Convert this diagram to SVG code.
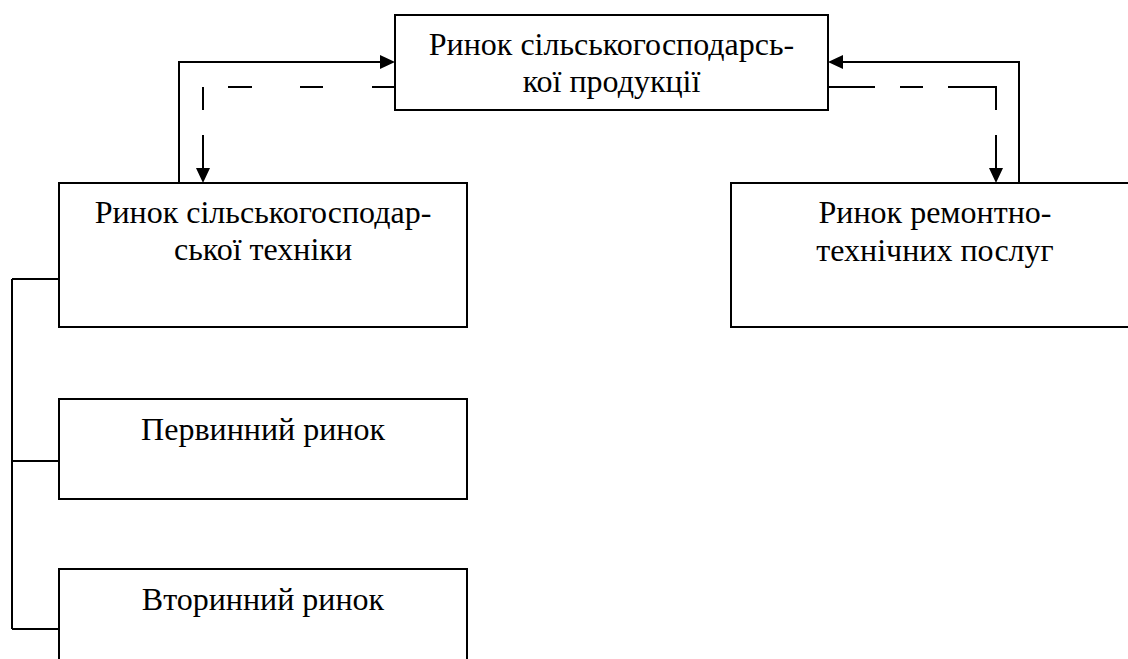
<svg xmlns="http://www.w3.org/2000/svg" width="1128" height="659" viewBox="0 0 1128 659">
<style>
.box{fill:#fff;stroke:#000;stroke-width:2}
.t{font-family:"Liberation Serif","Times New Roman",serif;font-size:32px;fill:#000;text-anchor:middle}
.ln{fill:none;stroke:#000;stroke-width:2}
.ah{fill:#000;stroke:none}
</style>
<rect width="1128" height="659" fill="#fff"/>
<g id="connectors">
<polyline class="ln" points="179,183 179,62 381,62"/>
<polygon class="ah" points="395,62 380,55 380,69"/>
<polyline class="ln" points="1019,183 1019,62 842,62"/>
<polygon class="ah" points="828,62 843,55 843,69"/>
<path class="ln" d="M372,87H395M300,87H323M228,87H252M203,87V110M203,135V169"/>
<polygon class="ah" points="203,183 196,168 210,168"/>
<path class="ln" d="M828,87H875M900,87H923M948,87H996V110M996,135V169"/>
<polygon class="ah" points="996,183 989,168 1003,168"/>
<path class="ln" d="M12,279V629M12,279H59M12,461H59M12,629H59"/>
</g>
<g id="node-top">
<rect class="box" x="395" y="15" width="433" height="95"/>
<text class="t" x="611.5" y="55">Ринок сільськогосподарсь-</text>
<text class="t" x="611.5" y="92">кої продукції</text>
</g>
<g id="node-tech">
<rect class="box" x="59" y="183" width="408" height="144"/>
<text class="t" x="263" y="223">Ринок сільськогосподар-</text>
<text class="t" x="263" y="260">ської техніки</text>
</g>
<g id="node-repair">
<rect class="box" x="731" y="183" width="408" height="144"/>
<text class="t" x="935" y="223">Ринок ремонтно-</text>
<text class="t" x="935" y="261">технічних послуг</text>
</g>
<g id="node-primary">
<rect class="box" x="59" y="399" width="408" height="100"/>
<text class="t" x="263" y="440">Первинний ринок</text>
</g>
<g id="node-secondary">
<rect class="box" x="59" y="569" width="408" height="110"/>
<text class="t" x="263" y="610">Вторинний ринок</text>
</g>
</svg>
